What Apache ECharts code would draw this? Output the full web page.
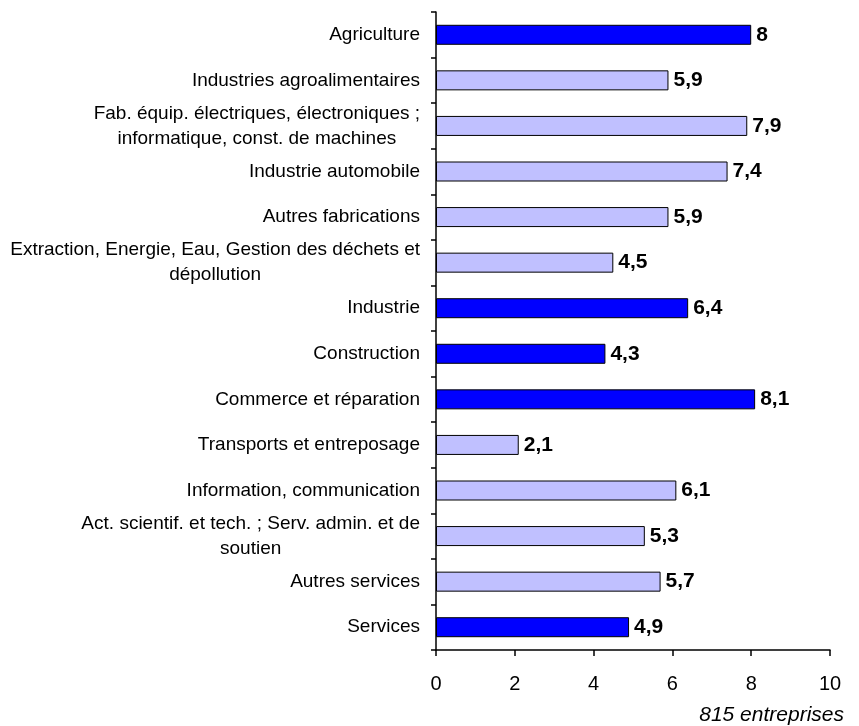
<!DOCTYPE html>
<html>
<head>
<meta charset="utf-8">
<script src="https://cdn.jsdelivr.net/npm/echarts@6/dist/echarts.min.js"></script>
<style>
  html, body { margin: 0; padding: 0; background: #fff; }
  #chart { width: 859px; height: 726px; }
</style>
</head>
<body>
<div id="chart"></div>
<script>
// Secteurs (de haut en bas)
const categories = [
  'Agriculture',
  'Industries agroalimentaires',
  'Fab. équip. électriques, électroniques ;\ninformatique, const. de machines',
  'Industrie automobile',
  'Autres fabrications',
  'Extraction, Energie, Eau, Gestion des déchets et\ndépollution',
  'Industrie',
  'Construction',
  'Commerce et réparation',
  'Transports et entreposage',
  'Information, communication',
  'Act. scientif. et tech. ; Serv. admin. et de\nsoutien',
  'Autres services',
  'Services'
]
const values = [8, 5.9, 7.9, 7.4, 5.9, 4.5, 6.4, 4.3, 8.1, 2.1, 6.1, 5.3, 5.7, 4.9]
// true = regroupement (barre foncée)
const isTotal = [true, false, false, false, false, false, true, true, true, false, false, false, false, true]
const xTicks = [0, 2, 4, 6, 8, 10]
const note = '815 entreprises'

const font = 'Liberation Sans, Arial, sans-serif'
const darkBlue = '#0000ff'
const lightBlue = '#c0c0ff'

const option = {
  animation: false,
  grid: { left: 436, right: 29, top: 12, bottom: 76, containLabel: false },
  xAxis: {
    type: 'value',
    min: xTicks[0],
    max: xTicks[xTicks.length - 1],
    interval: 2,
    splitLine: { show: false },
    axisLine: { show: true, lineStyle: { color: '#000', width: 1.5 } },
    axisTick: { show: true, length: 6, lineStyle: { color: '#000', width: 1.5 } },
    axisLabel: { color: '#000', fontSize: 20, fontFamily: font, margin: 24 }
  },
  yAxis: {
    type: 'category',
    inverse: true,
    data: categories,
    axisLine: { show: true, lineStyle: { color: '#000', width: 1.5 } },
    axisTick: { show: true, length: 5, lineStyle: { color: '#000', width: 1.5 } },
    axisLabel: {
      color: '#000',
      fontSize: 19,
      fontFamily: font,
      margin: 16,
      formatter: v => '{c|' + v + '}',
      rich: { c: { align: 'center', fontSize: 19, fontFamily: font, color: '#000', lineHeight: 25 } }
    }
  },
  series: [{
    type: 'bar',
    barWidth: 20,
    data: values.map((v, i) => ({
      value: v,
      itemStyle: { color: isTotal[i] ? darkBlue : lightBlue }
    })),
    itemStyle: { borderColor: '#000', borderWidth: 1 },
    label: {
      show: true,
      position: 'right',
      distance: 5,
      color: '#000',
      fontSize: 21,
      fontWeight: 'bold',
      fontFamily: font,
      formatter: p => String(p.value).replace('.', ',')
    }
  }],
  graphic: [{
    type: 'text',
    right: 15,
    top: 705,
    style: { text: note, fontSize: 21, fontStyle: 'italic', fontFamily: font, fill: '#000' }
  }]
}

echarts.init(document.getElementById('chart')).setOption(option)
</script>
</body>
</html>
